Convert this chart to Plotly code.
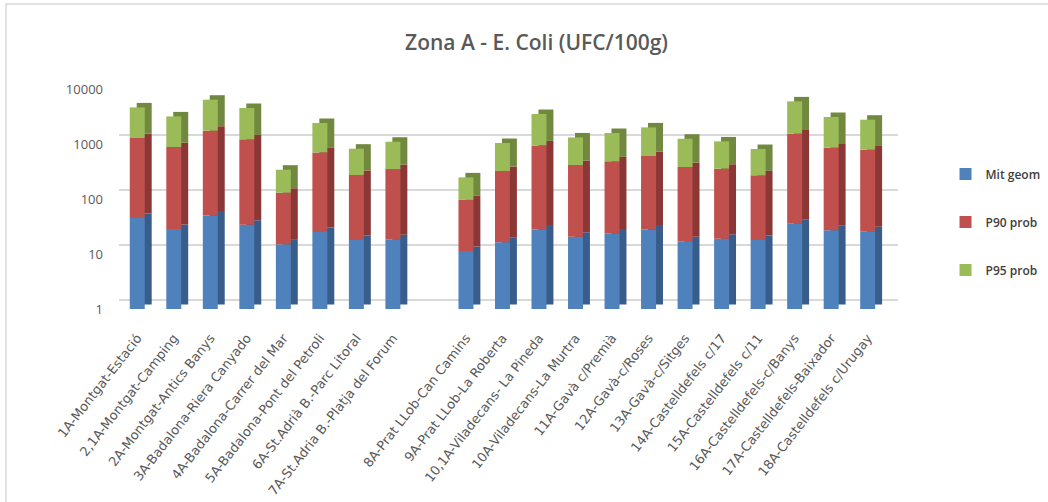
import numpy as np
import plotly.graph_objects as go

categories = [
    "1A-Montgat-Estació", "2,1A-Montgat-Camping", "2A-Montgat-Antics Banys",
    "3A-Badalona-Riera Canyado", "4A-Badalona-Carrer del Mar",
    "5A-Badalona-Pont del Petroli", "6A-St.Adrià B.-Parc Litoral",
    "7A-St.Adria B.-Platja del Forum", " ",
    "8A-Prat LLob-Can Camins", "9A-Prat LLob-La Roberta",
    "10,1A-Viladecans- La Pineda", "10A-Viladecans-La Murtra",
    "11A-Gavà c/Premià", "12A-Gavà-c/Roses", "13A-Gavà-c/Sitges",
    "14A-Castelldefels c/17", "15A-Castelldefels c/11",
    "16A-Castelldefels-c/Banys", "17A-Castelldefels-Baixador",
    "18A-Castelldefels c/Urugay",
]

mit_geom = [45, 28.5, 50, 34, 15, 25, 18, 18.5, None,
            11.3, 16.3, 28, 20.5, 23.5, 28, 17, 19, 18, 35.5, 27, 26]
p90_prob = [1240, 853, 1695, 1180, 115, 678, 255, 332, None,
            85, 307, 915, 394, 460, 577, 365, 337, 251, 1504, 830, 762]
p95_prob = [3345, 2293, 4645, 3302, 211, 1707, 549, 750, None,
            151, 720, 2567, 903, 1102, 1399, 866, 759, 542, 4415, 2240, 1979]

series_names = ["Mit geom", "P90 prob", "P95 prob"]
front_colors = ["#4f81bd", "#c0504d", "#9bbb59"]
side_colors = ["#385d8a", "#8b3735", "#71893f"]
y_ticks = [1, 10, 100, 1000, 10000]

def arr(v):
    return np.array([np.nan if x is None else x for x in v], dtype=float)

vals = [arr(mit_geom), arr(p90_prob), arr(p95_prob)]
tops = np.cumsum(np.vstack(vals), axis=0)
bases = [np.ones(len(categories)), tops[0], tops[1]]

DEPTH = 1.207      # vertical depth offset of the 3-D look (multiplicative on log axis)
FRONT_W = 0.41
SHIFT = 0.19

fig = go.Figure()

# side / depth faces (drawn first, behind the fronts)
for i in range(3):
    fig.add_trace(go.Bar(
        x=categories, y=(tops[i] - bases[i]) * DEPTH, base=bases[i] * DEPTH,
        width=FRONT_W, offset=-FRONT_W / 2 + SHIFT,
        marker=dict(color=side_colors[i], line=dict(width=0)),
        showlegend=False, hoverinfo="skip",
    ))

# front faces
for i in range(3):
    fig.add_trace(go.Bar(
        x=categories, y=tops[i] - bases[i] if i > 0 else vals[0],
        base=bases[i] if i > 0 else None,
        width=FRONT_W, offset=-FRONT_W / 2,
        name=series_names[i], legendgroup=series_names[i],
        marker=dict(color=front_colors[i], line=dict(width=0)),
    ))

# invisible helper so the back-wall grid axis is drawn
fig.add_trace(go.Scatter(x=[categories[0]], y=[1], yaxis="y2", mode="markers",
                         marker=dict(opacity=0), showlegend=False, hoverinfo="skip"))

fig.update_layout(
    width=1048, height=502,
    barmode="overlay",
    paper_bgcolor="white", plot_bgcolor="rgba(0,0,0,0)",
    margin=dict(l=119, r=150, t=89, b=193, autoexpand=False),
    title=dict(text="Zona A - E. Coli (UFC/100g)", x=0.512, xanchor="center",
               y=1 - 43 / 502, yanchor="middle",
               font=dict(family="Open Sans", size=21, color="#595959", weight=600)),
    xaxis=dict(type="category", range=[-0.5, 20.83], showgrid=False, zeroline=False,
               showline=False, ticks="", tickangle=-52, ticklabelstandoff=18,
               automargin=False,
               tickfont=dict(family="DejaVu Sans", size=13, color="#595959")),
    yaxis=dict(type="log", range=[0, 4], showgrid=False, zeroline=False, showline=False,
               tickvals=y_ticks, ticktext=[str(v) for v in y_ticks],
               ticklabelstandoff=15, automargin=False,
               tickfont=dict(family="Open Sans", size=13, color="#595959")),
    yaxis2=dict(type="log", overlaying="y", range=[-0.156, 3.844], showgrid=True,
                gridcolor="#d9d9d9", gridwidth=1.5, tickvals=y_ticks,
                showticklabels=False, zeroline=False, showline=False,
                automargin=False),
    legend=dict(x=1.061, xanchor="left", y=0.679, yanchor="top",
                traceorder="grouped", tracegroupgap=29,
                font=dict(family="Open Sans", size=12, color="#404040", weight=600)),
    shapes=[dict(type="rect", xref="paper", yref="paper",
                 x0=(6 - 119) / 779, x1=(1052 - 119) / 779,
                 y0=(309 - 506) / 220, y1=(309 - 4) / 220,
                 line=dict(color="#d9d9d9", width=1.5), layer="below")],
)

fig.write_html("out.html",
               config={"displayModeBar": False},
               post_script="document.body.style.margin='0';"
                           "document.documentElement.style.margin='0';")
